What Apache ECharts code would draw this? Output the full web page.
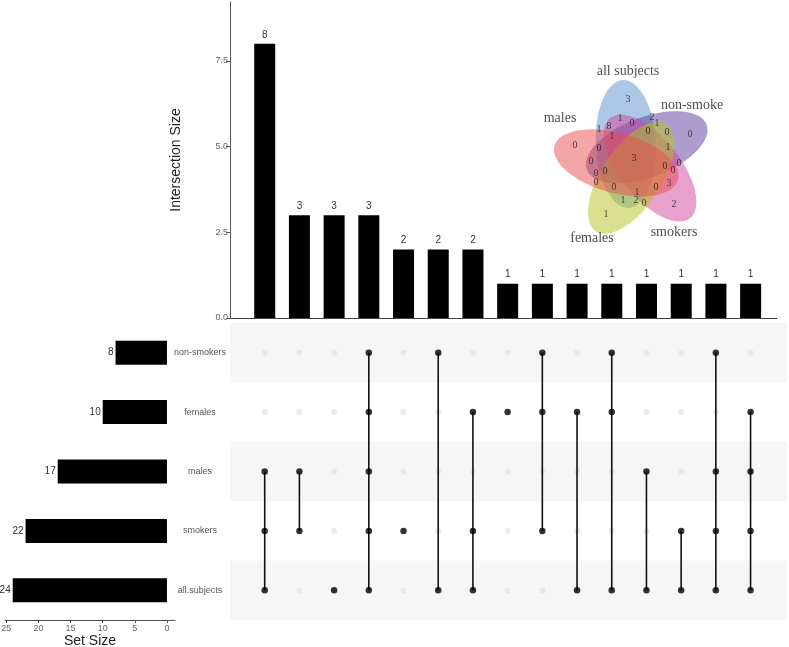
<!DOCTYPE html>
<html><head><meta charset="utf-8">
<script src="https://cdn.jsdelivr.net/npm/echarts@6/dist/echarts.min.js"></script>
<style>html,body{margin:0;padding:0;background:#fff}#c{width:789px;height:647px}</style>
</head><body><div id="c"></div>
<script>
// ---------- data ----------
const setNames = ['non-smokers','females','males','smokers','all.subjects'];
const setSizes = [8,10,17,22,24];
const intersectionSizes = [8,3,3,3,2,2,2,1,1,1,1,1,1,1,1];
const intersectionMembers = [
  ['males','smokers','all.subjects'],
  ['males','smokers'],
  ['all.subjects'],
  ['non-smokers','females','males','smokers','all.subjects'],
  ['smokers'],
  ['non-smokers','all.subjects'],
  ['females','smokers','all.subjects'],
  ['females'],
  ['non-smokers','females','smokers'],
  ['females','all.subjects'],
  ['non-smokers','females','all.subjects'],
  ['males','all.subjects'],
  ['smokers','all.subjects'],
  ['non-smokers','males','smokers','all.subjects'],
  ['females','males','smokers','all.subjects']
];
const intersectionTicks = [0,2.5,5,7.5];
const setSizeTicks = [0,5,10,15,20,25];

// Venn inset (local inset coordinates)
const vennSetLabels = ['all subjects','non-smoke','smokers','females','males'];
const vennLabelX = [88,152,134,52,20];
const vennLabelY = [11,45,172,178,58];
const vennEllipseX = [85.8,106.7,110.1,91.2,76.2];
const vennEllipseY = [84,87.2,108.1,117.8,102.9];
const vennEllipseAngle = [-92.6,-20.6,51.4,123.4,195.4];
const vennCounts = [3,2,1,1,0,1,8,1,0,0,0,0,0,1,3,0,0,0,0,0,0,0,0,1,0,3,1,2,0,1,2];
const vennCountX = [88,112,117,80,92,59,69,72,108,127,150,35,59,128,94,51,125,133,139,56,65,56,74,97,116,129,83,96,104,66,134];
const vennCountY = [39,57,63,58,63,69,66,76,71,72,74,85,88,87,98,101,106,110,103,113,111,122,127,132,127,123,140,140,143,154,144];

// ---------- derived ----------
const activeDots = [], inactiveDots = [], segs = [];
intersectionMembers.forEach((m, i) => {
  const idxs = m.map(s => setNames.indexOf(s));
  setNames.forEach((s, r) => {
    if (idxs.includes(r)) activeDots.push([i + 1, r]); else inactiveDots.push([i + 1, r]);
  });
  if (idxs.length > 1) segs.push([i + 1, Math.min(...idxs), Math.max(...idxs)]);
});

const vennFill = ['rgba(91,143,208,0.5)','rgba(90,60,158,0.5)','rgba(208,68,154,0.5)','rgba(181,196,30,0.5)','rgba(234,76,76,0.5)'];

const chart = echarts.init(document.getElementById('c'), null, {renderer: 'canvas'});
const sans = 'Liberation Sans, Arial, sans-serif';
const serif = 'Liberation Serif, Times New Roman, serif';
const gridBase = {containLabel: false, outerBoundsMode: 'none'};

const option = {
  animation: false,
  backgroundColor: '#ffffff',
  grid: [
    Object.assign({left: 230, top: 2, width: 547, height: 316}, gridBase),     // intersection bars
    Object.assign({left: 230, top: 323, width: 557, height: 297}, gridBase),   // matrix
    Object.assign({left: 5, top: 323, width: 170, height: 297}, gridBase),     // set size
    Object.assign({left: 540, top: 60, width: 180, height: 200}, gridBase)     // venn
  ],
  xAxis: [
    {gridIndex: 0, type: 'value', min: 0, max: 15.76,
     axisLine: {show: true, lineStyle: {color: '#444', width: 1}},
     axisTick: {show: false}, axisLabel: {show: false}, splitLine: {show: false}},
    {gridIndex: 1, type: 'value', min: 0, max: 16.05, show: false, splitLine: {show: false}},
    {gridIndex: 2, type: 'value', min: -1.25, max: 25.2, inverse: true,
     axisLine: {show: true, lineStyle: {color: '#555', width: 1}},
     axisTick: {show: true, length: 3, lineStyle: {color: '#555'}, customValues: setSizeTicks},
     axisLabel: {fontSize: 9, color: '#666', fontFamily: sans, margin: 4, customValues: setSizeTicks},
     splitLine: {show: false},
     name: 'Set Size', nameLocation: 'middle', nameGap: 13,
     nameTextStyle: {fontSize: 14, color: '#222', fontFamily: sans}},
    {gridIndex: 3, type: 'value', min: 0, max: 180, show: false}
  ],
  yAxis: [
    {gridIndex: 0, type: 'value', min: 0, max: 9.22,
     axisLine: {show: true, lineStyle: {color: '#555', width: 1}},
     axisTick: {show: true, length: 4, lineStyle: {color: '#555'}, customValues: intersectionTicks},
     axisLabel: {fontSize: 9, color: '#666', fontFamily: sans, margin: 2, customValues: intersectionTicks,
                 formatter: v => Number(v).toFixed(1)},
     splitLine: {show: false},
     name: 'Intersection Size', nameLocation: 'middle', nameGap: 47, nameRotate: 90,
     nameTextStyle: {fontSize: 14, color: '#222', fontFamily: sans}},
    {gridIndex: 1, type: 'category', data: setNames, inverse: true,
     axisLine: {show: false}, axisTick: {show: false}, axisLabel: {show: false},
     splitLine: {show: false},
     splitArea: {show: true, areaStyle: {color: ['#f6f6f6', '#ffffff']}}},
    {gridIndex: 2, type: 'category', data: setNames, inverse: true, position: 'right',
     axisLine: {show: false}, axisTick: {show: false},
     axisLabel: {fontSize: 9, color: '#555', fontFamily: sans, align: 'center', margin: 25}},
    {gridIndex: 3, type: 'value', min: 0, max: 200, inverse: true, show: false}
  ],
  series: [
    {type: 'bar', xAxisIndex: 0, yAxisIndex: 0, barWidth: 21,
     data: intersectionSizes.map((v, i) => [i + 1, v]),
     itemStyle: {color: '#000'},
     label: {show: true, position: 'top', distance: 4, fontSize: 10, color: '#333', fontFamily: sans,
             formatter: p => p.value[1]}},
    {type: 'scatter', xAxisIndex: 1, yAxisIndex: 1, data: inactiveDots, symbolSize: 6,
     itemStyle: {color: '#e6e6e6'}, z: 3},
    {type: 'custom', xAxisIndex: 1, yAxisIndex: 1, data: segs, z: 4,
     encode: {x: 0, y: [1, 2]},
     renderItem: (params, api) => {
       const a = api.coord([api.value(0), api.value(1)]);
       const b = api.coord([api.value(0), api.value(2)]);
       return {type: 'line', shape: {x1: a[0], y1: a[1], x2: b[0], y2: b[1]},
               style: {stroke: '#111', lineWidth: 1.6}};
     }},
    {type: 'scatter', xAxisIndex: 1, yAxisIndex: 1, data: activeDots, symbolSize: 6.5,
     itemStyle: {color: '#000'}, z: 5},
    {type: 'bar', xAxisIndex: 2, yAxisIndex: 2, barWidth: 24, data: setSizes,
     itemStyle: {color: '#000'},
     label: {show: true, position: 'left', distance: 2, fontSize: 10, color: '#333', fontFamily: sans}},
    {type: 'custom', xAxisIndex: 3, yAxisIndex: 3, z: 6,
     data: vennEllipseX.map((x, i) => [x, vennEllipseY[i], vennEllipseAngle[i], i]),
     renderItem: (params, api) => {
       const cx = api.value(0), cy = api.value(1), th = api.value(2) * Math.PI / 180;
       const idx = api.value(3);
       const A = 64, B = 30, pts = [];
       for (let k = 0; k < 90; k++) {
         const t = k / 90 * Math.PI * 2;
         const x = cx + A * Math.cos(t) * Math.cos(th) - B * Math.sin(t) * Math.sin(th);
         const y = cy + A * Math.cos(t) * Math.sin(th) + B * Math.sin(t) * Math.cos(th);
         pts.push(api.coord([x, y]));
       }
       return {type: 'polygon', shape: {points: pts}, style: {fill: vennFill[idx], stroke: null}};
     }},
    {type: 'scatter', xAxisIndex: 3, yAxisIndex: 3, z: 7, symbolSize: 1,
     itemStyle: {color: 'rgba(0,0,0,0)'},
     data: vennCounts.map((v, i) => [vennCountX[i], vennCountY[i], v]),
     label: {show: true, position: 'inside', fontSize: 10, color: '#222', fontFamily: serif,
             formatter: p => p.value[2]}},
    {type: 'scatter', xAxisIndex: 3, yAxisIndex: 3, z: 7, symbolSize: 1,
     itemStyle: {color: 'rgba(0,0,0,0)'},
     data: vennSetLabels.map((s, i) => ({value: [vennLabelX[i], vennLabelY[i]], name: s})),
     label: {show: true, position: 'inside', fontSize: 14, color: '#222', fontFamily: serif,
             formatter: p => p.name}}
  ]
};
chart.setOption(option);
</script>
</body></html>
